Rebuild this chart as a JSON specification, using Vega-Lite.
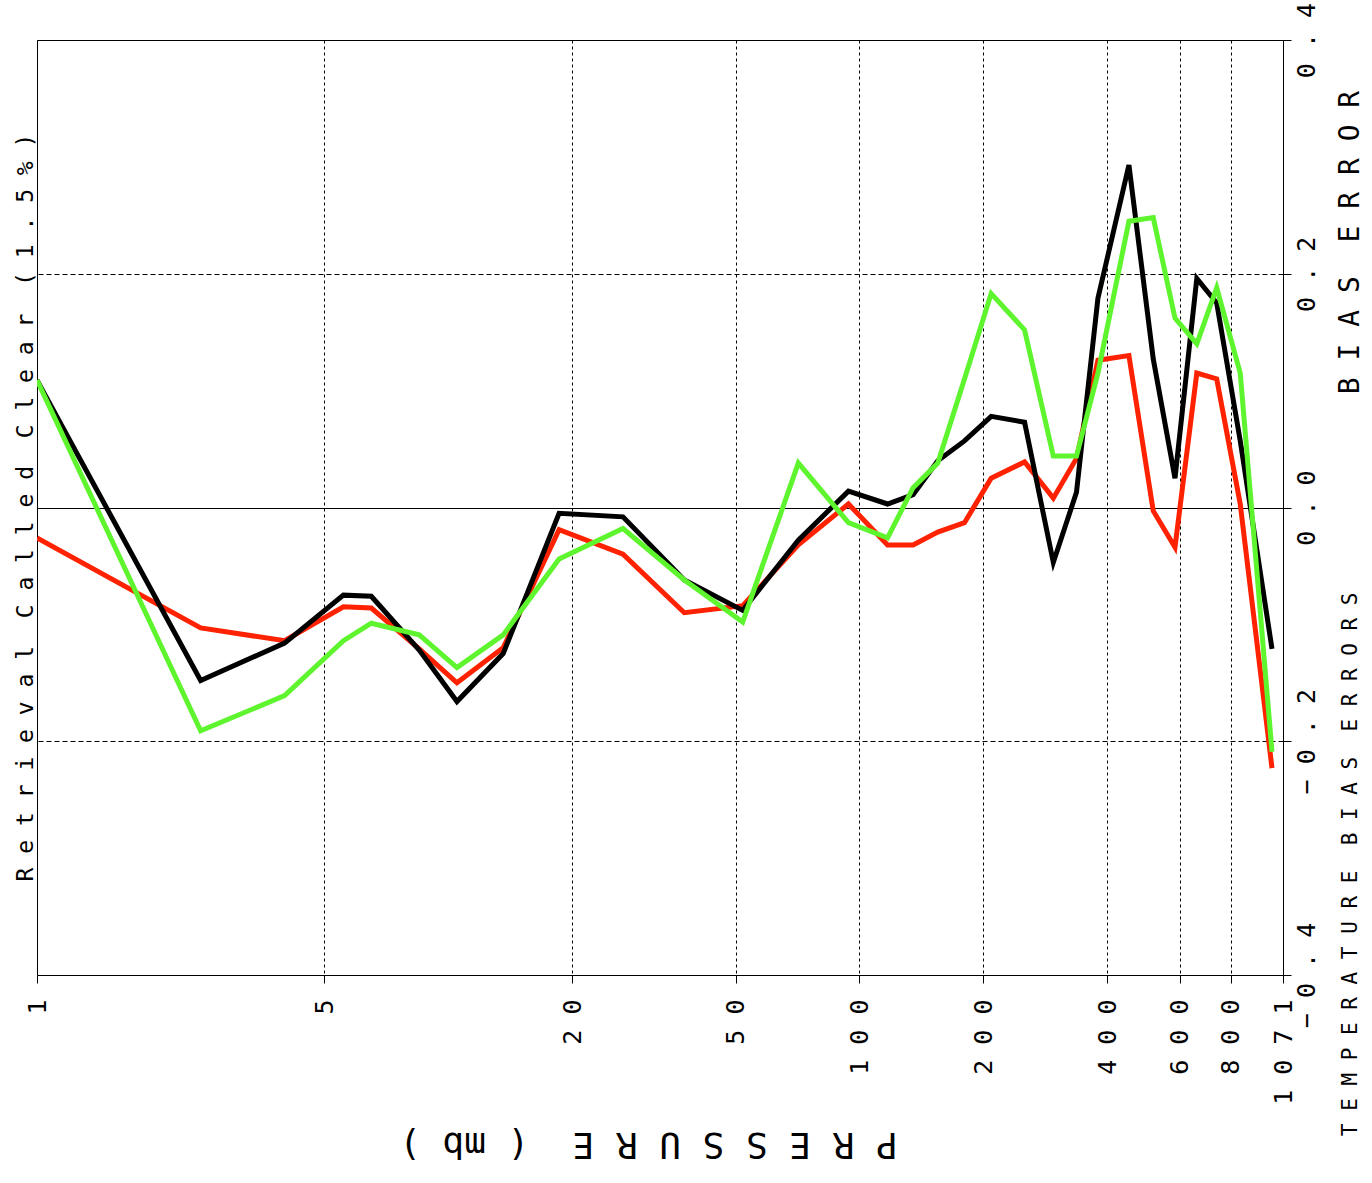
{
  "$schema": "https://vega.github.io/schema/vega-lite/v6.json",
  "width": 1246,
  "height": 935,
  "autosize": "none",
  "padding": {"left": 37, "top": 40, "right": 89, "bottom": 208},
  "background": "white",
  "config": {
    "view": {"stroke": "#000", "strokeWidth": 1},
    "axis": {
      "labelFont": "DejaVu Sans Mono",
      "titleFont": "DejaVu Sans Mono",
      "labelColor": "#000",
      "titleColor": "#000",
      "titleFontWeight": "normal",
      "tickColor": "#000",
      "gridColor": "#000",
      "gridOpacity": 1
    }
  },
  "data": {"name": "bias"},
  "datasets": {
    "bias": [
      {"p": 1, "s": "black", "v": 0.109}, {"p": 2.5, "s": "black", "v": -0.148}, {"p": 4, "s": "black", "v": -0.116},
      {"p": 5.56, "s": "black", "v": -0.075}, {"p": 6.5, "s": "black", "v": -0.076}, {"p": 8.5, "s": "black", "v": -0.122},
      {"p": 10.5, "s": "black", "v": -0.166}, {"p": 13.6, "s": "black", "v": -0.125}, {"p": 18.6, "s": "black", "v": -0.005},
      {"p": 26.6, "s": "black", "v": -0.008}, {"p": 37.5, "s": "black", "v": -0.062}, {"p": 52, "s": "black", "v": -0.088},
      {"p": 71, "s": "black", "v": -0.028}, {"p": 94, "s": "black", "v": 0.014}, {"p": 117, "s": "black", "v": 0.003},
      {"p": 135, "s": "black", "v": 0.011}, {"p": 155, "s": "black", "v": 0.040}, {"p": 180, "s": "black", "v": 0.057},
      {"p": 209, "s": "black", "v": 0.078}, {"p": 252, "s": "black", "v": 0.073}, {"p": 296, "s": "black", "v": -0.047},
      {"p": 337, "s": "black", "v": 0.013}, {"p": 380, "s": "black", "v": 0.179}, {"p": 452, "s": "black", "v": 0.293},
      {"p": 518, "s": "black", "v": 0.127}, {"p": 585, "s": "black", "v": 0.025}, {"p": 661, "s": "black", "v": 0.196},
      {"p": 739, "s": "black", "v": 0.175}, {"p": 843, "s": "black", "v": 0.057}, {"p": 1007, "s": "black", "v": -0.121},

      {"p": 1, "s": "red", "v": -0.026}, {"p": 2.5, "s": "red", "v": -0.103}, {"p": 4, "s": "red", "v": -0.114},
      {"p": 5.56, "s": "red", "v": -0.085}, {"p": 6.5, "s": "red", "v": -0.086}, {"p": 8.5, "s": "red", "v": -0.121},
      {"p": 10.5, "s": "red", "v": -0.150}, {"p": 13.6, "s": "red", "v": -0.120}, {"p": 18.6, "s": "red", "v": -0.019},
      {"p": 26.6, "s": "red", "v": -0.040}, {"p": 37.5, "s": "red", "v": -0.090}, {"p": 52, "s": "red", "v": -0.084},
      {"p": 71, "s": "red", "v": -0.032}, {"p": 94, "s": "red", "v": 0.003}, {"p": 117, "s": "red", "v": -0.032},
      {"p": 135, "s": "red", "v": -0.032}, {"p": 155, "s": "red", "v": -0.021}, {"p": 180, "s": "red", "v": -0.013},
      {"p": 209, "s": "red", "v": 0.025}, {"p": 252, "s": "red", "v": 0.039}, {"p": 296, "s": "red", "v": 0.008},
      {"p": 337, "s": "red", "v": 0.042}, {"p": 380, "s": "red", "v": 0.126}, {"p": 452, "s": "red", "v": 0.130},
      {"p": 518, "s": "red", "v": -0.003}, {"p": 585, "s": "red", "v": -0.034}, {"p": 661, "s": "red", "v": 0.115},
      {"p": 739, "s": "red", "v": 0.110}, {"p": 843, "s": "red", "v": 0.003}, {"p": 1007, "s": "red", "v": -0.223},

      {"p": 1, "s": "green", "v": 0.109}, {"p": 2.5, "s": "green", "v": -0.191}, {"p": 4, "s": "green", "v": -0.161},
      {"p": 5.56, "s": "green", "v": -0.114}, {"p": 6.5, "s": "green", "v": -0.099}, {"p": 8.5, "s": "green", "v": -0.109},
      {"p": 10.5, "s": "green", "v": -0.137}, {"p": 13.6, "s": "green", "v": -0.109}, {"p": 18.6, "s": "green", "v": -0.044},
      {"p": 26.6, "s": "green", "v": -0.018}, {"p": 37.5, "s": "green", "v": -0.062}, {"p": 52, "s": "green", "v": -0.098},
      {"p": 71, "s": "green", "v": 0.038}, {"p": 94, "s": "green", "v": -0.013}, {"p": 117, "s": "green", "v": -0.026},
      {"p": 135, "s": "green", "v": 0.017}, {"p": 155, "s": "green", "v": 0.038}, {"p": 180, "s": "green", "v": 0.110},
      {"p": 209, "s": "green", "v": 0.183}, {"p": 252, "s": "green", "v": 0.152}, {"p": 296, "s": "green", "v": 0.044},
      {"p": 337, "s": "green", "v": 0.044}, {"p": 380, "s": "green", "v": 0.115}, {"p": 452, "s": "green", "v": 0.245},
      {"p": 518, "s": "green", "v": 0.248}, {"p": 585, "s": "green", "v": 0.162}, {"p": 661, "s": "green", "v": 0.140},
      {"p": 739, "s": "green", "v": 0.188}, {"p": 843, "s": "green", "v": 0.115}, {"p": 1007, "s": "green", "v": -0.209}
    ]
  },
  "layer": [
    {
      "layer": [
        {
          "transform": [{"filter": "datum.s === 'red'"}],
          "mark": {"type": "line", "color": "#ff2200", "strokeWidth": 5, "clip": true},
          "encoding": {
            "x": {
              "field": "p", "type": "quantitative",
              "scale": {"type": "log", "domain": [1, 1071], "nice": false, "zero": false},
              "axis": {
                "orient": "bottom",
                "values": [1, 5, 20, 50, 100, 200, 400, 600, 800, 1071],
                "format": "d",
                "labelExpr": "join(split(datum.label, ''), ' ')",
                "labelAngle": 270,
                "labelAlign": "right",
                "labelBaseline": "middle",
                "labelFontSize": 25,
                "labelPadding": 16,
                "labelOverlap": false,
                "labelFlush": false,
                "labelBound": false,
                "tickSize": 8,
                "tickWidth": 1,
                "domain": false,
                "grid": true,
                "gridDash": [3, 3],
                "gridWidth": 1,
                "title": "P R E S S U R E\u00a0\u00a0( mb )",
                "titleAngle": 180,
                "titleFontSize": 36,
                "titleX": 611,
                "titleY": 168,
                "titleAlign": "center",
                "titleBaseline": "middle"
              }
            },
            "y": {
              "field": "v", "type": "quantitative",
              "scale": {"domain": [-0.4, 0.4], "nice": false, "zero": false},
              "axis": {
                "orient": "right",
                "values": [-0.4, -0.2, 0, 0.2, 0.4],
                "format": ".1f",
                "labelExpr": "join(split(datum.label, ''), ' ')",
                "labelAngle": 270,
                "labelAlign": "center",
                "labelBaseline": "top",
                "labelFontSize": 25,
                "labelPadding": 3,
                "labelOverlap": false,
                "labelFlush": false,
                "labelBound": false,
                "tickSize": 8,
                "tickWidth": 1,
                "domain": false,
                "grid": true,
                "gridDash": {"condition": {"test": "datum.value === 0", "value": []}, "value": [5, 3]},
                "gridWidth": 1,
                "title": "B I A S\u00a0\u00a0E R R O R",
                "titleAngle": 270,
                "titleFontSize": 28,
                "titleX": 67,
                "titleY": 202,
                "titleAlign": "center",
                "titleBaseline": "middle"
              }
            }
          }
        },
        {
          "transform": [{"filter": "datum.s === 'black'"}],
          "mark": {"type": "line", "color": "#000000", "strokeWidth": 5, "clip": true},
          "encoding": {
            "x": {"field": "p", "type": "quantitative"},
            "y": {"field": "v", "type": "quantitative"}
          }
        }
      ]
    },
    {
      "transform": [{"filter": "datum.s === 'green'"}],
      "mark": {"type": "line", "color": "#5ef52e", "strokeWidth": 5, "clip": true},
      "encoding": {
        "x": {
          "field": "p", "type": "quantitative",
          "scale": {"type": "log", "domain": [1, 1071], "nice": false, "zero": false},
          "axis": {
            "orient": "top",
            "labels": false, "ticks": false, "domain": false, "grid": false,
            "title": "T E M P E R A T U R E\u00a0\u00a0B I A S\u00a0\u00a0E R R O R S",
            "titleAngle": 270,
            "titleFontSize": 21,
            "titleX": 1313,
            "titleY": 552,
            "titleAlign": "right",
            "titleBaseline": "middle"
          }
        },
        "y": {
          "field": "v", "type": "quantitative",
          "scale": {"domain": [-0.4, 0.4], "nice": false, "zero": false},
          "axis": {
            "orient": "left",
            "labels": false, "ticks": false, "domain": false, "grid": false,
            "title": "R e t r i e v a l\u00a0\u00a0C a l l e d\u00a0\u00a0C l e a r\u00a0\u00a0( 1 . 5 % )",
            "titleAngle": 270,
            "titleFontSize": 23,
            "titleX": -12,
            "titleY": 467,
            "titleAlign": "center",
            "titleBaseline": "middle"
          }
        }
      }
    }
  ],
  "resolve": {"scale": {"x": "independent", "y": "independent"}, "axis": {"x": "independent", "y": "independent"}}
}
